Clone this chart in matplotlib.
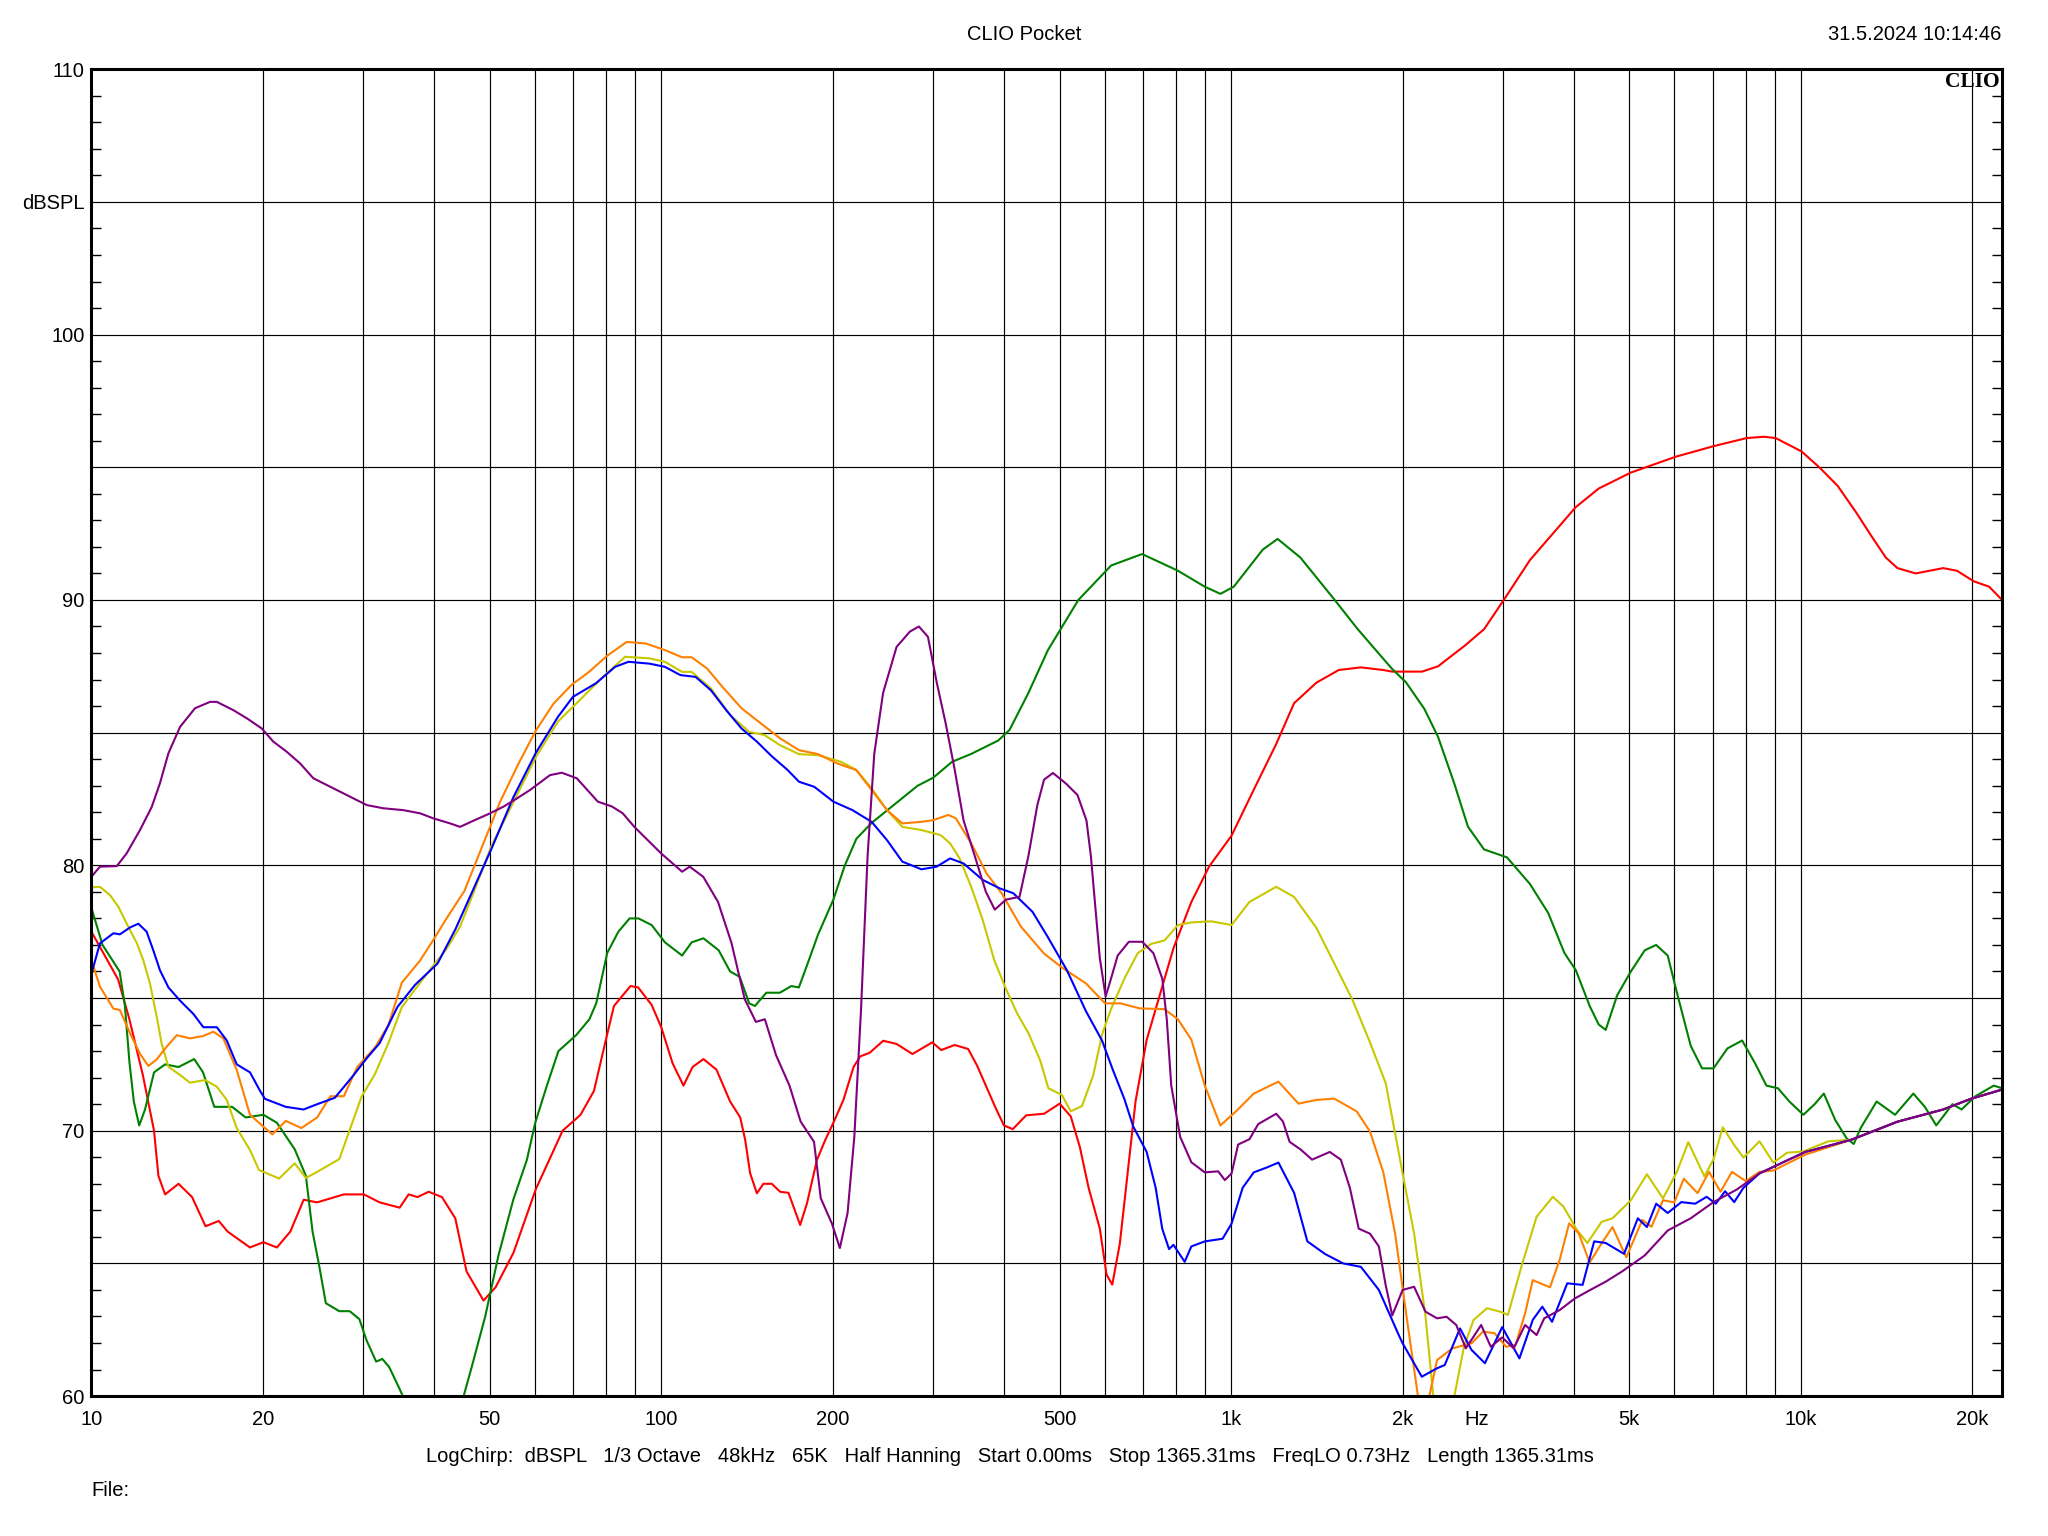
import matplotlib
matplotlib.use("Agg")
import matplotlib.pyplot as plt

plt.rcParams['font.family'] = ['Liberation Sans', 'DejaVu Sans']

# ---------------- data (Hz, dBSPL) ----------------
red_f = [10, 11.14, 11.66, 12.31, 12.88, 13.11, 13.47, 14.22, 15.02, 15.86, 16.73, 17.34, 18.98, 20.04, 21.16,
         22.34, 23.58, 24.89, 27.73, 30.08, 32.05, 34.75, 36.03, 37.35, 39.07, 41.23, 43.51, 45.53, 48.77, 51.2,
         55.04, 60.25, 67.13, 72.17, 76.2, 79.7, 82.6, 88.3, 91.1, 96.2, 100, 104.7, 109.4, 113.5, 118.6, 125,
         132.1, 137.6, 140.4, 143.2, 147.2, 151.1, 156.3, 161.7, 167.2, 175.3, 180.2, 187.6, 194, 200.5, 208.8,
         217.5, 223.4, 232.3, 245.2, 258.8, 275.9, 299, 310, 327.3, 345.6, 358.2, 371.3, 384.9, 399.3, 413.9,
         436.9, 469.7, 500.2, 523.2, 542.7, 562.3, 588.4, 604.6, 618.7, 637.9, 661.6, 679.9, 711, 750.5, 792.4,
         851.8, 915.3, 1002, 1096, 1200, 1290, 1411, 1545, 1690, 1850, 1917, 2163, 2308, 2579, 2780, 3010,
         3345, 3670, 4027, 4418, 5030, 6035, 7040, 8031, 8617, 9030, 10020, 10770, 11600, 12500, 13210, 14090,
         14770, 15900, 16810, 17770, 18790, 20120, 21400, 22540]
red_db = [77.5, 75.7, 74.2, 72.1, 70.0, 68.3, 67.6, 68.0, 67.5, 66.4, 66.6, 66.2, 65.6, 65.8, 65.6,
          66.2, 67.4, 67.3, 67.6, 67.6, 67.3, 67.1, 67.6, 67.5, 67.7, 67.5, 66.7, 64.7, 63.6, 64.1,
          65.4, 67.8, 70.0, 70.6, 71.5, 73.3, 74.7, 75.45, 75.4, 74.74, 73.9, 72.54, 71.7, 72.4, 72.7, 72.3,
          71.1, 70.5, 69.65, 68.4, 67.64, 68.0, 68.0, 67.7, 67.66, 66.45, 67.26, 68.9, 69.65, 70.3, 71.16,
          72.4, 72.8, 72.94, 73.39, 73.27, 72.89, 73.33, 73.04, 73.23, 73.08, 72.46, 71.7, 70.93, 70.2, 70.06,
          70.58, 70.64, 71.02, 70.54, 69.39, 67.85, 66.31, 64.58, 64.2, 65.74, 68.81, 71.12, 73.42, 75.15, 76.88,
          78.62, 79.96, 81.12, 82.85, 84.57, 86.11, 86.88, 87.36, 87.46, 87.36, 87.3, 87.3, 87.5, 88.3, 88.9, 90.0,
          91.5, 92.5, 93.5, 94.2, 94.8, 95.4, 95.8, 96.1, 96.15, 96.1, 95.6, 95.0, 94.3, 93.3, 92.5, 91.6,
          91.2, 91.0, 91.1, 91.2, 91.1, 90.7, 90.5, 90.0]

green_f = [10, 10.46, 11.21, 11.45, 11.66, 11.87, 12.13, 12.42, 12.88, 13.47, 14.22, 15.15, 15.7, 16.43, 17.66,
           18.65, 20.04, 21.16, 22.74, 23.79, 24.44, 25.11, 25.79, 27.23, 28.4, 29.53, 30.4, 31.6, 32.4, 33.3,
           34.6, 35.2, 40, 45.0, 46.5, 49.1, 51.8, 55.0, 58.1, 60.1, 63.0, 66.0, 70.9, 74.8, 76.9, 80.4, 84.1,
           88.0, 91.2, 96.2, 101.5, 108.8, 113.1, 118.6, 126.1, 132.1, 137.3, 142.7, 146, 152.9, 161.5, 169.1,
           174.4, 180, 188.5, 200.4, 210, 220, 234, 256.7, 281.8, 300, 323.8, 350, 390, 408.5, 441, 476.8,
           539.5, 616, 698, 807, 899, 958, 1011, 1137, 1207, 1323, 1520, 1668, 1917, 2027, 2183, 2307, 2463,
           2604, 2779, 3049, 3345, 3603, 3845, 4027, 4259, 4418, 4544, 4759, 5030, 5321, 5572, 5838, 6059,
           6407, 6707, 7024, 7430, 7886, 8304, 8699, 9114, 9547, 10100, 10570, 10970, 11490, 12040, 12380,
           12730, 13580, 14630, 15750, 16500, 17280, 18450, 19140, 20240, 21800, 22540]
green_db = [78.4, 77.0, 76.0, 74.7, 72.6, 71.1, 70.2, 70.8, 72.2, 72.5, 72.4, 72.7, 72.2, 70.9, 70.9,
            70.5, 70.6, 70.3, 69.3, 68.3, 66.2, 64.9, 63.5, 63.2, 63.2, 62.9, 62.1, 61.3, 61.4, 61.1,
            60.35, 60.0, 56.5, 60.0, 61.1, 63.0, 65.3, 67.4, 68.9, 70.3, 71.7, 73.0, 73.6, 74.2, 74.8, 76.7, 77.5,
            78.0, 78.0, 77.75, 77.1, 76.6, 77.1, 77.25, 76.8, 76.0, 75.8, 74.8, 74.7, 75.2, 75.2, 75.45,
            75.4, 76.2, 77.4, 78.7, 80.0, 81.0, 81.6, 82.3, 83.0, 83.3, 83.9, 84.2, 84.7, 85.1, 86.5, 88.1,
            90.0, 91.3, 91.73, 91.1, 90.5, 90.23, 90.5, 91.9, 92.3, 91.6, 90.0, 88.9, 87.4, 86.9, 85.9, 84.85, 83.1,
            81.46, 80.6, 80.3, 79.3, 78.2, 76.7, 76.05, 74.7, 74.0, 73.8, 75.1, 76.0, 76.8, 77.0, 76.6, 75.2,
            73.2, 72.35, 72.35, 73.1, 73.4, 72.55, 71.7, 71.6, 71.1, 70.6, 71.0, 71.4, 70.4, 69.7, 69.5,
            70.1, 71.1, 70.6, 71.4, 70.9, 70.2, 71.0, 70.8, 71.3, 71.7, 71.6]

blue_f = [10, 10.35, 10.93, 11.22, 11.69, 12.09, 12.5, 12.84, 13.19, 13.65, 14.31, 15.1, 15.72, 16.6, 17.28,
          17.99, 18.98, 19.77, 20.17, 21.93, 23.57, 24.9, 26.74, 28.74, 30.34, 32.05, 34.43, 37.0, 40.5, 43.55,
          46.8, 50.3, 55.0, 60.25, 65.9, 70.0, 76.8, 83.0, 87.6, 95.4, 101.5, 108, 114.9, 122.2, 130, 138.3,
          147.2, 156.5, 166.5, 174.5, 185.6, 200.5, 216.6, 234, 249, 264.9, 286.2, 304.3, 321.3, 339.3, 366.6,
          392.9, 414.8, 448.2, 476.8, 515, 556.4, 593.6, 620, 649.6, 673.4, 711, 737.3, 757.3, 778.3, 792.4,
          829, 851.8, 899.3, 966.3, 1002, 1048, 1096, 1157, 1211, 1290, 1361, 1463, 1573, 1690, 1817, 1971,
          2000, 2161, 2299, 2371, 2522, 2642, 2789, 2991, 3206, 3384, 3517, 3658, 3890, 4139, 4337, 4544,
          4893, 5174, 5367, 5572, 5838, 6168, 6524, 6832, 7090, 7360, 7638, 7928, 8459, 9283, 10180, 12260,
          14770, 17770, 19860, 22540]
blue_db = [75.9, 77.06, 77.44, 77.4, 77.66, 77.8, 77.5, 76.8, 76.05, 75.4, 74.9, 74.4, 73.9, 73.9, 73.4,
           72.5, 72.2, 71.5, 71.2, 70.9, 70.8, 71.0, 71.24, 72.05, 72.7, 73.3, 74.66, 75.5, 76.3, 77.6,
           79.1, 80.6, 82.56, 84.24, 85.6, 86.35, 86.86, 87.48, 87.67, 87.6, 87.48, 87.17, 87.1, 86.6, 85.85, 85.16,
           84.66, 84.1, 83.6, 83.15, 82.96, 82.4, 82.08, 81.64, 80.95, 80.14, 79.85, 79.95, 80.26, 80.07, 79.45,
           79.13, 78.95, 78.25, 77.3, 76.05, 74.5, 73.4, 72.3, 71.2, 70.16, 69.2, 67.85, 66.3, 65.54, 65.7,
           65.06, 65.64, 65.83, 65.93, 66.5, 67.85, 68.43, 68.62, 68.8, 67.66, 65.83, 65.35, 65.0, 64.87, 64.0, 62.28,
           61.99, 60.73, 61.05, 61.17, 62.55, 61.74, 61.24, 62.6, 61.42, 62.87, 63.37, 62.8, 64.25, 64.19, 65.83, 65.77,
           65.36, 66.7, 66.37, 67.25, 66.9, 67.31, 67.25, 67.51, 67.25, 67.72, 67.31, 67.85, 68.39, 68.8, 69.2, 69.66,
           70.34, 70.8, 71.2, 71.55]

orange_f = [10, 10.35, 10.93, 11.22, 11.69, 12.17, 12.59, 13.02, 13.56, 14.12, 14.89, 15.72, 16.37, 17.04, 17.99,
            18.98, 20.77, 21.93, 23.36, 24.9, 26.27, 27.73, 29.27, 31.46, 33.2, 35.06, 37.7, 39.79, 42.0, 45.13,
            48.5, 52.14, 56.07, 60.25, 64.75, 69.6, 74.8, 80.4, 87.0, 94.0, 101.5, 108.8, 113.1, 120.3, 128,
            138.3, 149.5, 161.5, 174.5, 188.5, 203.6, 219.9, 234, 249, 264.9, 286.2, 299.8, 318.9, 328.9, 349.9,
            372.2, 396, 427.8, 469.4, 507.1, 556.4, 601, 639.3, 691, 764, 806.7, 851.8, 899.3, 957.7, 1020, 1096,
            1211, 1313, 1411, 1517, 1661, 1753, 1850, 1940, 2032, 2128, 2175, 2228, 2299, 2446, 2642, 2768, 2900,
            3038, 3157, 3281, 3384, 3628, 3772, 3920, 4075, 4259, 4470, 4670, 4939, 5268, 5466, 5728, 5995, 6230,
            6588, 6899, 7226, 7568, 8004, 8459, 8944, 10180, 12260, 14770, 17770, 19860, 22540]
orange_db = [76.43, 75.43, 74.6, 74.55, 73.67, 72.9, 72.44, 72.69, 73.17, 73.6, 73.48, 73.57, 73.73, 73.48, 72.29,
             70.6, 69.86, 70.37, 70.1, 70.5, 71.3, 71.3, 72.4, 73.14, 73.98, 75.58, 76.4, 77.18, 78.0, 79.03,
             80.71, 82.39, 83.8, 85.08, 86.1, 86.8, 87.3, 87.9, 88.42, 88.36, 88.11, 87.84, 87.84, 87.42, 86.73,
             85.92, 85.35, 84.79, 84.34, 84.19, 83.84, 83.59, 82.84, 82.08, 81.58, 81.64, 81.7, 81.9, 81.77, 80.83,
             79.7, 78.94, 77.69, 76.68, 76.12, 75.55, 74.8, 74.8, 74.61, 74.58, 74.2, 73.43, 71.7, 70.2, 70.73, 71.4,
             71.85, 71.02, 71.16, 71.21, 70.73, 69.97, 68.43, 66.13, 63.0, 60.0, 58.5, 60.0, 61.36, 61.8, 61.99, 62.43, 62.37,
             61.86, 61.93, 63.12, 64.37, 64.1, 65.13, 66.51, 66.13, 65.03, 65.76, 66.37, 65.23, 66.64, 66.38, 67.38, 67.3, 68.19,
             67.65, 68.45, 67.7, 68.45, 68.1, 68.45, 68.5, 69.1, 69.66, 70.34, 70.8, 71.2, 71.55]

yellow_f = [10, 10.35, 10.78, 11.15, 11.53, 12.02, 12.33, 12.67, 13.02, 13.28, 13.65, 14.31, 14.89, 15.83, 16.6,
            17.28, 17.98, 18.98, 19.68, 21.35, 22.74, 23.79, 24.9, 27.23, 29.8, 31.46, 33.2, 35.06, 37.0, 39.07,
            42.0, 44.33, 46.8, 50.3, 55.05, 60.25, 65.9, 72.2, 79.0, 86.4, 95.4, 101.5, 108.8, 113.1, 122.2,
            132.1, 142.7, 151.8, 161.5, 174.5, 188.5, 206.8, 219.9, 234, 249, 264.9, 286.2, 309.2, 321.3, 333.9,
            349.9, 366.6, 384, 402.2, 421.3, 441.1, 462.2, 478, 504.7, 523.2, 547.5, 572.8, 593.6, 615.6, 649.7,
            685.8, 724, 764, 806.7, 851.8, 923.7, 1002, 1077, 1200, 1290, 1411, 1517, 1631, 1753, 1868, 1940,
            2000, 2095, 2194, 2264, 2360, 2465, 2563, 2664, 2812, 2968, 3061, 3232, 3437, 3670, 3831, 4045, 4220,
            4470, 4670, 5030, 5367, 5728, 6059, 6344, 6770, 7024, 7292, 7638, 7928, 8459, 8944, 9457, 10100,
            11170, 12260, 14770, 17770, 19860, 22540]
yellow_db = [79.17, 79.19, 78.88, 78.44, 77.81, 77.06, 76.43, 75.55, 74.3, 73.29, 72.41, 72.1, 71.81, 71.91, 71.66,
             71.16, 70.11, 69.27, 68.52, 68.2, 68.77, 68.22, 68.45, 68.93, 71.29, 72.14, 73.3, 74.66, 75.33, 76.0,
             76.85, 77.68, 78.95, 80.71, 82.39, 84.08, 85.42, 86.26, 87.1, 87.86, 87.8, 87.67, 87.29, 87.29, 86.67,
             85.66, 85.03, 84.91, 84.53, 84.19, 84.15, 83.9, 83.6, 82.9, 82.08, 81.45, 81.33, 81.14, 80.83, 80.26,
             79.19, 77.94, 76.43, 75.37, 74.42, 73.67, 72.66, 71.6, 71.35, 70.73, 70.93, 72.08, 73.62, 74.58, 75.73,
             76.69, 77.04, 77.17, 77.75, 77.85, 77.89, 77.75, 78.62, 79.19, 78.81, 77.65, 76.31, 74.96, 73.33, 71.79, 69.9,
             68.39, 66.13, 63.0, 60.0, 57.5, 60.0, 61.86, 62.87, 63.31, 63.18, 63.06, 64.88, 66.76, 67.51, 67.14, 66.26, 65.77,
             66.57, 66.7, 67.38, 68.36, 67.45, 68.45, 69.57, 68.28, 68.92, 70.13, 69.46, 68.99, 69.6, 68.8, 69.17, 69.22,
             69.6, 69.66, 70.34, 70.8, 71.2, 71.55]

purple_f = [10, 10.35, 11.08, 11.53, 12.17, 12.76, 13.19, 13.65, 14.31, 15.2, 16.15, 16.6, 17.74, 18.74, 19.9,
            20.86, 22.02, 23.24, 24.52, 26.59, 28.82, 30.43, 32.54, 35.28, 37.75, 39.82, 42.6, 44.36, 46.8, 50.07,
            52.85, 55.8, 58.86, 63.8, 66.9, 71.1, 77.4, 81.9, 85.6, 89.7, 99.96, 108.8, 112.2, 118.5, 125.8,
            132.8, 140.1, 146.6, 152, 159, 167.9, 175.6, 185.4, 190.5, 199.3, 205.8, 212.3, 218.2, 224.2, 230.2,
            236.5, 245.1, 258.8, 273.2, 283.3, 293.8, 304.5, 315.7, 327.3, 339.3, 355, 371.3, 384.9, 402.7, 425.3,
            440.9, 457.1, 469.7, 486.9, 513.9, 537.6, 557.5, 567.5, 577.8, 588.4, 602.4, 615.6, 632.4, 661.6, 698.5,
            730.6, 757.3, 771.2, 785.3, 814, 851.8, 899.3, 949.1, 975.2, 1002, 1029, 1077, 1116, 1200, 1233, 1267,
            1325, 1387, 1490, 1558, 1616, 1675, 1753, 1817, 1867, 1918, 2000, 2095, 2194, 2299, 2389, 2484, 2582,
            2664, 2747, 2856, 2991, 3133, 3281, 3437, 3544, 3772, 4012, 4269, 4542, 4849, 5321, 5838, 6407, 7024,
            7712, 8459, 9283, 10180, 12260, 14770, 17770, 19860, 22540]
purple_db = [79.57, 79.95, 79.97, 80.45, 81.33, 82.2, 83.09, 84.22, 85.22, 85.92, 86.16, 86.16, 85.85, 85.54, 85.16,
             84.66, 84.28, 83.84, 83.28, 82.9, 82.52, 82.27, 82.15, 82.08, 81.96, 81.77, 81.58, 81.45, 81.68, 81.96,
             82.21, 82.52, 82.84, 83.4, 83.49, 83.28, 82.4, 82.22, 81.96, 81.45, 80.45, 79.76, 79.95, 79.57, 78.62,
             77.08, 74.96, 74.1, 74.2, 72.85, 71.7, 70.35, 69.58, 67.46, 66.5, 65.58, 66.89, 69.77, 74.58, 80.35,
             84.2, 86.5, 88.23, 88.81, 89.0, 88.61, 86.88, 85.34, 83.61, 81.69, 80.35, 79.0, 78.33, 78.71, 78.81,
             80.35, 82.27, 83.23, 83.48, 83.07, 82.65, 81.69, 80.35, 78.42, 76.5, 75.06, 75.73, 76.6, 77.12, 77.12,
             76.69, 75.73, 74.2, 71.7, 69.77, 68.81, 68.43, 68.47, 68.14, 68.39, 69.48, 69.68, 70.25, 70.64, 70.35, 69.58,
             69.29, 68.91, 69.2, 68.91, 67.85, 66.31, 66.12, 65.64, 64.2, 63.04, 64.0, 64.12, 63.18, 62.93, 62.99, 62.68, 61.8,
             62.24, 62.68, 61.86, 62.21, 61.8, 62.68, 62.3, 62.93, 63.24, 63.68, 64.0, 64.31, 64.69, 65.3, 66.24, 66.7, 67.31,
             67.78, 68.39, 68.8, 69.2, 69.66, 70.34, 70.8, 71.2, 71.55]

grid_freqs = [10, 20, 30, 40, 50, 60, 70, 80, 90, 100, 200, 300, 400, 500, 600, 700, 800, 900,
              1000, 2000, 3000, 4000, 5000, 6000, 7000, 8000, 9000, 10000, 20000]
x_labels = {10: '10', 20: '20', 50: '50', 100: '100', 200: '200', 500: '500', 1000: '1k',
            2000: '2k', 5000: '5k', 10000: '10k', 20000: '20k'}
y_major = [60, 65, 70, 75, 80, 85, 90, 95, 100, 105, 110]
y_labels = {60: '60', 70: '70', 80: '80', 90: '90', 100: '100', 105: 'dBSPL', 110: '110'}

title = 'CLIO Pocket'
stamp = '31.5.2024 10:14:46'
info = ('LogChirp:  dBSPL   1/3 Octave   48kHz   65K   Half Hanning   Start 0.00ms   '
        'Stop 1365.31ms   FreqLO 0.73Hz   Length 1365.31ms')

series = [
    (red_f, red_db, '#ff0000'),
    (green_f, green_db, '#008000'),
    (yellow_f, yellow_db, '#c8c800'),
    (orange_f, orange_db, '#ff8000'),
    (blue_f, blue_db, '#0000ff'),
    (purple_f, purple_db, '#800080'),
]

# ---------------- figure ----------------
W, H = 2048, 1536
fig = plt.figure(figsize=(W / 100, H / 100), dpi=100)
fig.patch.set_facecolor('white')
L, R, T, B = 91.4, 2001.6, 69.2, 1396.1
ax = fig.add_axes([L / W, 1 - B / H, (R - L) / W, (B - T) / H])
ax.set_xscale('log')
ax.set_xlim(10, 22500)
ax.set_ylim(60, 110)

for f, d, c in series:
    ax.plot(f, d, color=c, lw=1.5, solid_joinstyle='round', zorder=3)

FS = 14.5
ax.set_xticks(grid_freqs)
ax.set_xticklabels([x_labels.get(v, '') for v in grid_freqs], fontsize=FS)
ax.set_xticks([2700], minor=True)
ax.set_xticklabels(['Hz'], minor=True, fontsize=FS)
ax.tick_params(axis='x', which='both', length=0, pad=10)

ax.set_yticks(y_major)
ax.set_yticklabels([y_labels.get(v, '') for v in y_major], fontsize=FS)
ax.set_yticks(list(range(60, 111)), minor=True)
ax.tick_params(axis='y', which='major', length=0, pad=5)
ax.tick_params(axis='y', which='minor', length=7, width=1.0, direction='in',
               left=True, right=True, labelleft=False)

ax.grid(True, which='major', color='black', lw=0.85, zorder=1)
ax.grid(False, which='minor')
for s in ax.spines.values():
    s.set_linewidth(2.2)
    s.set_zorder(5)

ax.text(0.999, 0.998, 'CLIO', transform=ax.transAxes, ha='right', va='top',
        family='Liberation Serif', fontweight='bold', fontsize=15.5, zorder=6)

fig.text(1024 / W, 1 - 34.5 / H, title, ha='center', va='center', fontsize=FS)
fig.text(R / W, 1 - 34.5 / H, stamp, ha='right', va='center', fontsize=FS)
fig.text(426 / W, 1 - 1456 / H, info, ha='left', va='center', fontsize=FS)
fig.text(L / W, 1 - 1490 / H, 'File:', ha='left', va='center', fontsize=FS)

fig.savefig('out.png', dpi=100, facecolor='white')
